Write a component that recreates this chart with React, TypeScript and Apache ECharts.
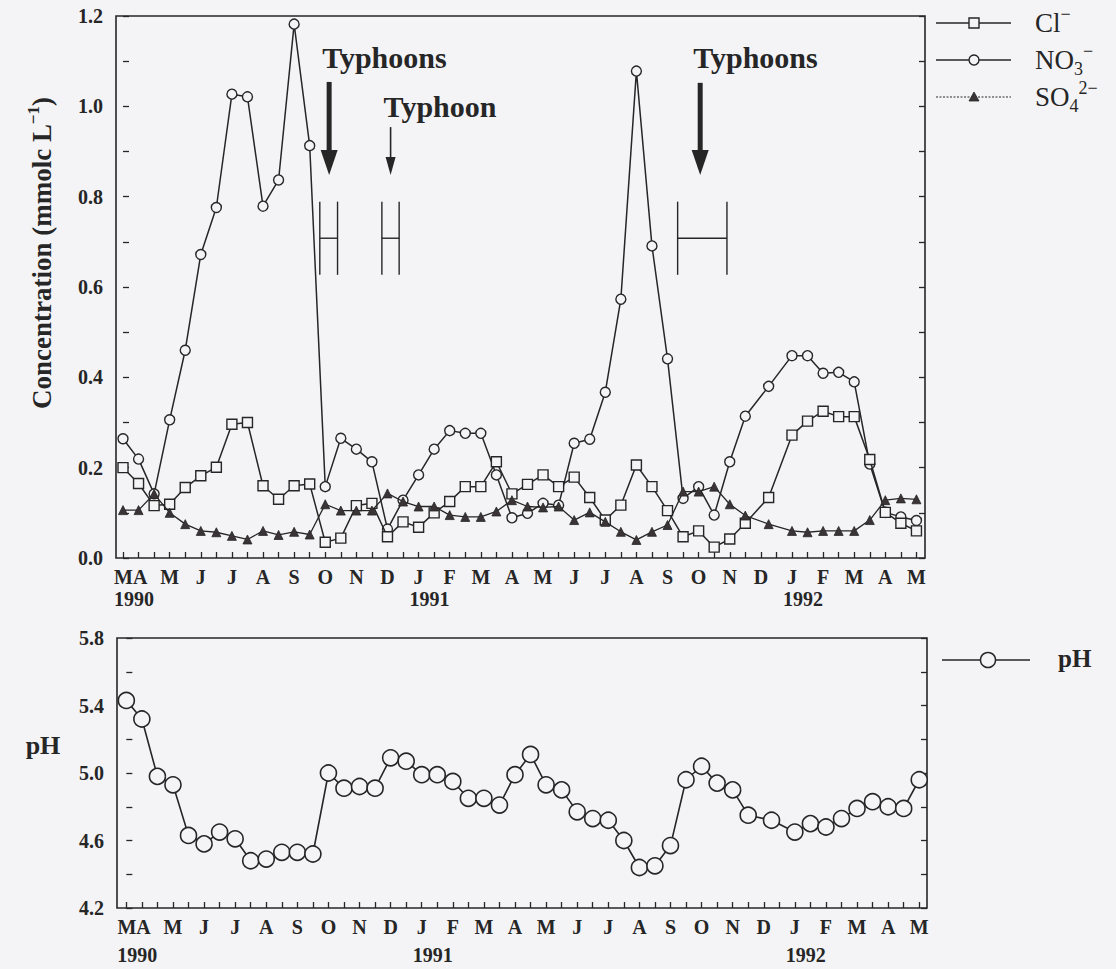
import React, { useEffect, useRef } from 'react';
import * as echarts from 'echarts';

// Sampling slots in half-month steps (slot 0 = late March 1990).
// One sample falls between slots 41 and 42.
const sampleSlot = [
  0, 1, 2, 3, 4, 5, 6, 7, 8, 9, 10, 11, 12, 13, 14, 15, 16, 17, 18, 19, 20,
  21, 22, 23, 24, 25, 26, 27, 28, 29, 30, 31, 32, 33, 34, 35, 36, 37, 38, 39, 40,
  41.5, 43, 44, 45, 46, 47, 48, 49, 50, 51,
];

// Concentrations, mmolc per litre
const chloride = [
  0.2, 0.165, 0.116, 0.119, 0.156, 0.182, 0.201, 0.296, 0.3, 0.16, 0.13, 0.16, 0.164,
  0.035, 0.044, 0.116, 0.121, 0.047, 0.08, 0.068, 0.1, 0.125, 0.158, 0.158, 0.213,
  0.142, 0.163, 0.184, 0.158, 0.179, 0.134, 0.084, 0.117, 0.206, 0.158, 0.105, 0.047,
  0.06, 0.024, 0.042, 0.077, 0.134, 0.272, 0.303, 0.325, 0.313, 0.313, 0.218, 0.101,
  0.077, 0.06,
];
const nitrate = [
  0.264, 0.219, 0.142, 0.306, 0.46, 0.672, 0.776, 1.027, 1.021, 0.779, 0.837, 1.182,
  0.913, 0.158, 0.265, 0.241, 0.213, 0.064, 0.128, 0.184, 0.241, 0.282, 0.276, 0.276,
  0.184, 0.089, 0.099, 0.121, 0.117, 0.254, 0.263, 0.367, 0.573, 1.078, 0.691, 0.441,
  0.132, 0.158, 0.095, 0.213, 0.314, 0.38, 0.448, 0.448, 0.409, 0.411, 0.39, 0.208,
  0.101, 0.091, 0.083,
];
const sulfate = [
  0.106, 0.106, 0.142, 0.1, 0.075, 0.06, 0.057, 0.049, 0.041, 0.06, 0.051, 0.058, 0.052,
  0.119, 0.105, 0.105, 0.105, 0.143, 0.125, 0.114, 0.114, 0.095, 0.091, 0.091, 0.103,
  0.128, 0.114, 0.112, 0.114, 0.084, 0.101, 0.08, 0.058, 0.04, 0.058, 0.073, 0.147,
  0.147, 0.158, 0.119, 0.094, 0.075, 0.06, 0.057, 0.06, 0.06, 0.06, 0.084, 0.128,
  0.132, 0.13,
];
const pHValues = [
  5.43, 5.32, 4.98, 4.93, 4.63, 4.58, 4.65, 4.61, 4.48, 4.49, 4.53, 4.53, 4.52, 5.0,
  4.91, 4.92, 4.91, 5.09, 5.07, 4.99, 4.99, 4.95, 4.85, 4.85, 4.81, 4.99, 5.11, 4.93,
  4.9, 4.77, 4.73, 4.72, 4.6, 4.44, 4.45, 4.57, 4.96, 5.04, 4.94, 4.9, 4.75, 4.72,
  4.65, 4.7, 4.68, 4.73, 4.79, 4.83, 4.8, 4.79, 4.96,
];

// Month letters under the time axis (March and April 1990 share one label)
const monthSlots = [0.5, 3, 5, 7, 9, 11, 13, 15, 17, 19, 21, 23, 25, 27, 29, 31, 33, 35, 37, 39, 41, 43, 45, 47, 49, 51];
const monthLetters = ['MA', 'M', 'J', 'J', 'A', 'S', 'O', 'N', 'D', 'J', 'F', 'M', 'A', 'M', 'J', 'J', 'A', 'S', 'O', 'N', 'D', 'J', 'F', 'M', 'A', 'M'];
const yearSlots = [0, 19, 43];
const yearLabels = ['1990', '1991', '1992'];

// Typhoon notes (in slot / concentration units)
const typhoonLabels = ['Typhoons', 'Typhoon', 'Typhoons'];
const typhoonLabelLevel = [1.109, 1.0, 1.109];
const typhoonArrowSlot = [13.25, 17.2, 37.1];
const typhoonArrowTop = [1.054, 0.954, 1.052];
const typhoonArrowTip = 0.848;
const typhoonArrowHeavy = [true, false, true];
const typhoonSpanStart = [12.65, 16.64, 35.65];
const typhoonSpanEnd = [13.79, 17.75, 38.82];
const typhoonSpanTop = 0.789;
const typhoonSpanMid = 0.708;
const typhoonSpanBottom = 0.627;

const FONT = "'Liberation Serif', 'Times New Roman', Times, serif";
const INK = '#262626';
const PAPER = '#f4f4f6';

const tickSlots = Array.from({ length: 52 }, (_, i) => i);

function timeAxis(gridIndex: number, min: number, max: number) {
  return {
    type: 'value',
    gridIndex,
    min,
    max,
    axisLine: { show: false },
    splitLine: { show: false },
    axisTick: {
      show: true,
      inside: true,
      length: 6,
      lineStyle: { color: INK, width: 1.3 },
      customValues: tickSlots,
    },
    axisLabel: {
      show: true,
      customValues: monthSlots,
      hideOverlap: false,
      showMinLabel: true,
      showMaxLabel: true,
      formatter: (v: number) => {
        const i = monthSlots.findIndex((s) => Math.abs(s - v) < 1e-6);
        return i >= 0 ? monthLetters[i] : '';
      },
      color: INK,
      fontFamily: FONT,
      fontWeight: 'bold',
      fontSize: 20,
      margin: 9,
    },
  };
}

function valueAxis(
  gridIndex: number,
  position: 'left' | 'right',
  min: number,
  max: number,
  interval: number,
  labelFn: ((v: number) => string) | null
) {
  return {
    type: 'value',
    gridIndex,
    position,
    min,
    max,
    interval,
    axisLine: { show: false },
    splitLine: { show: false },
    axisTick: { show: true, inside: true, length: 6, lineStyle: { color: INK, width: 1.3 } },
    axisLabel: labelFn
      ? {
          show: true,
          showMinLabel: true,
          showMaxLabel: true,
          formatter: labelFn,
          color: INK,
          fontFamily: FONT,
          fontWeight: 'bold',
          fontSize: 20,
          margin: 13,
        }
      : { show: false },
  };
}

const concLabel = (v: number) => {
  const n = Math.round(v * 10);
  return n % 2 === 0 ? (n / 10).toFixed(1) : '';
};
const pHLabel = (v: number) => {
  const n = Math.round((v - 4.2) / 0.2);
  return n % 2 === 0 ? v.toFixed(1) : '';
};

function App() {
  const ref = useRef<HTMLDivElement>(null);

  useEffect(() => {
    const el = ref.current;
    if (!el) return;
    const chart = echarts.init(el, null, { renderer: 'svg' });
    const pairs = (ys: number[]) => sampleSlot.map((s, i) => [s, ys[i]]);

    const gridBox = { show: true, borderColor: INK, borderWidth: 1.6, backgroundColor: 'transparent' };

    chart.setOption({
      animation: false,
      backgroundColor: PAPER,
      grid: [
        { ...gridBox, left: 116, right: 191, top: 16, bottom: 411, outerBoundsMode: 'none' },
        { ...gridBox, left: 117, right: 189, top: 638, bottom: 61, outerBoundsMode: 'none' },
      ],
      xAxis: [timeAxis(0, -0.45, 51.55), timeAxis(1, -0.6, 51.5)],
      yAxis: [
        valueAxis(0, 'left', 0, 1.2, 0.1, concLabel),
        valueAxis(0, 'right', 0, 1.2, 0.1, null),
        valueAxis(1, 'left', 4.2, 5.8, 0.2, pHLabel),
        valueAxis(1, 'right', 4.2, 5.8, 0.2, null),
      ],
      series: [
        {
          name: 'NO3-',
          type: 'line',
          xAxisIndex: 0,
          yAxisIndex: 0,
          data: pairs(nitrate),
          symbol: 'circle',
          symbolSize: 10,
          showAllSymbol: true,
          silent: true,
          lineStyle: { color: INK, width: 1.5 },
          itemStyle: { color: PAPER, borderColor: INK, borderWidth: 1.4 },
          z: 2,
        },
        {
          name: 'Cl-',
          type: 'line',
          xAxisIndex: 0,
          yAxisIndex: 0,
          data: pairs(chloride),
          symbol: 'rect',
          symbolSize: 10,
          showAllSymbol: true,
          silent: true,
          lineStyle: { color: INK, width: 1.5 },
          itemStyle: { color: PAPER, borderColor: INK, borderWidth: 1.4 },
          z: 3,
        },
        {
          name: 'SO4 2-',
          type: 'line',
          xAxisIndex: 0,
          yAxisIndex: 0,
          data: pairs(sulfate),
          symbol: 'triangle',
          symbolSize: 9,
          showAllSymbol: true,
          silent: true,
          lineStyle: { color: INK, width: 1.3 },
          itemStyle: { color: '#3a3436', borderColor: INK, borderWidth: 0.8 },
          z: 4,
        },
        {
          name: 'pH',
          type: 'line',
          xAxisIndex: 1,
          yAxisIndex: 2,
          data: pairs(pHValues),
          symbol: 'circle',
          symbolSize: 16,
          showAllSymbol: true,
          silent: true,
          lineStyle: { color: INK, width: 1.6 },
          itemStyle: { color: PAPER, borderColor: INK, borderWidth: 1.6 },
          z: 2,
        },
      ],
    });

    const topPx = (x: number, y: number) =>
      chart.convertToPixel({ xAxisIndex: 0, yAxisIndex: 0 }, [x, y]) as number[];
    const botPx = (x: number, y: number) =>
      chart.convertToPixel({ xAxisIndex: 1, yAxisIndex: 2 }, [x, y]) as number[];

    const els: any[] = [];
    const line = (x1: number, y1: number, x2: number, y2: number, width: number, dash?: number[]) =>
      els.push({
        type: 'line',
        silent: true,
        shape: { x1, y1, x2, y2 },
        style: { stroke: INK, lineWidth: width, lineDash: dash || null },
      });
    const text = (x: number, y: number, str: string, font: string, align = 'left') =>
      els.push({
        type: 'text',
        silent: true,
        x,
        y,
        style: { text: str, font, fill: INK, align, verticalAlign: 'middle' },
      });

    // Typhoon arrows, labels and period brackets
    typhoonLabels.forEach((label, i) => {
      const heavy = typhoonArrowHeavy[i];
      const [ax, ay0] = topPx(typhoonArrowSlot[i], typhoonArrowTop[i]);
      const [, ayTip] = topPx(typhoonArrowSlot[i], typhoonArrowTip);
      const headLen = heavy ? 25 : 18;
      const headW = heavy ? 17 : 10;
      line(ax, ay0, ax, ayTip - headLen + 2, heavy ? 5 : 1.6);
      els.push({
        type: 'polygon',
        silent: true,
        shape: {
          points: [
            [ax - headW / 2, ayTip - headLen],
            [ax + headW / 2, ayTip - headLen],
            [ax, ayTip],
          ],
        },
        style: { fill: INK },
      });
      const [, ly] = topPx(typhoonArrowSlot[i], typhoonLabelLevel[i]);
      text(ax - 7, ly, label, `bold 30px ${FONT}`);

      const [bx0, byTop] = topPx(typhoonSpanStart[i], typhoonSpanTop);
      const [bx1, byBot] = topPx(typhoonSpanEnd[i], typhoonSpanBottom);
      const [, byMid] = topPx(typhoonSpanEnd[i], typhoonSpanMid);
      line(bx0, byTop, bx0, byBot, 1.4);
      line(bx1, byTop, bx1, byBot, 1.4);
      line(bx0, byMid, bx1, byMid, 1.4);
    });

    // Year labels under the month letters
    const [, topAxisY] = topPx(0, 0);
    const [, botAxisY] = botPx(0, 4.2);
    yearSlots.forEach((slot, i) => {
      const [tx] = topPx(slot, 0);
      const [bx] = botPx(slot, 4.2);
      text(tx - 9, topAxisY + 41, yearLabels[i], `bold 20px ${FONT}`);
      text(bx - 9, botAxisY + 47, yearLabels[i], `bold 20px ${FONT}`);
    });

    // Axis titles
    const richSup = {
      b: { font: `bold 27px ${FONT}`, fill: INK, lineHeight: 34 },
      sup: { font: `bold 17px ${FONT}`, fill: INK, lineHeight: 17, verticalAlign: 'top' },
    };
    els.push({
      type: 'text',
      silent: true,
      x: 42,
      y: 253,
      rotation: Math.PI / 2,
      style: {
        text: '{b|Concentration (mmolc L}{sup|−1}{b|)}',
        rich: richSup,
        align: 'center',
        verticalAlign: 'middle',
        fill: INK,
      },
    });
    text(43, 745, 'pH', `bold 26px ${FONT}`, 'center');

    // Legend for the concentration panel
    const legendRows = [23, 60, 97];
    const lx0 = 936;
    const lx1 = 1011;
    const lsym = 974;
    line(lx0, legendRows[0], lx1, legendRows[0], 1.4);
    els.push({
      type: 'rect',
      silent: true,
      shape: { x: lsym - 5, y: legendRows[0] - 5, width: 10, height: 10 },
      style: { fill: PAPER, stroke: INK, lineWidth: 1.4 },
    });
    line(lx0, legendRows[1], lx1, legendRows[1], 1.4);
    els.push({
      type: 'circle',
      silent: true,
      shape: { cx: lsym, cy: legendRows[1], r: 5 },
      style: { fill: PAPER, stroke: INK, lineWidth: 1.4 },
    });
    line(lx0, legendRows[2], lx1, legendRows[2], 1.2, [2, 1.5]);
    els.push({
      type: 'polygon',
      silent: true,
      shape: {
        points: [
          [lsym, legendRows[2] - 5],
          [lsym + 5, legendRows[2] + 4],
          [lsym - 5, legendRows[2] + 4],
        ],
      },
      style: { fill: '#3a3436', stroke: INK, lineWidth: 0.8 },
    });
    const richIon = {
      b: { font: `27px ${FONT}`, fill: INK, lineHeight: 36 },
      sub: { font: `18px ${FONT}`, fill: INK, lineHeight: 18, verticalAlign: 'bottom' },
      sup: { font: `18px ${FONT}`, fill: INK, lineHeight: 18, verticalAlign: 'top' },
    };
    const ionTexts = ['{b|Cl}{sup|−}', '{b|NO}{sub|3}{sup|−}', '{b|SO}{sub|4}{sup|2−}'];
    ionTexts.forEach((t, i) =>
      els.push({
        type: 'text',
        silent: true,
        x: 1035,
        y: legendRows[i],
        style: { text: t, rich: richIon, align: 'left', verticalAlign: 'middle', fill: INK },
      })
    );

    // Legend for the pH panel
    line(942, 660, 1030, 660, 1.5);
    els.push({
      type: 'circle',
      silent: true,
      shape: { cx: 988, cy: 660, r: 7.5 },
      style: { fill: PAPER, stroke: INK, lineWidth: 1.5 },
    });
    text(1058, 658, 'pH', `bold 25px ${FONT}`);

    chart.setOption({ graphic: { elements: els } });

    return () => {
      chart.dispose();
    };
  }, []);

  return (
    <div
      ref={ref}
      style={{ position: 'absolute', left: 0, top: 0, width: 1116, height: 969, background: PAPER }}
    />
  );
}

export default App;
